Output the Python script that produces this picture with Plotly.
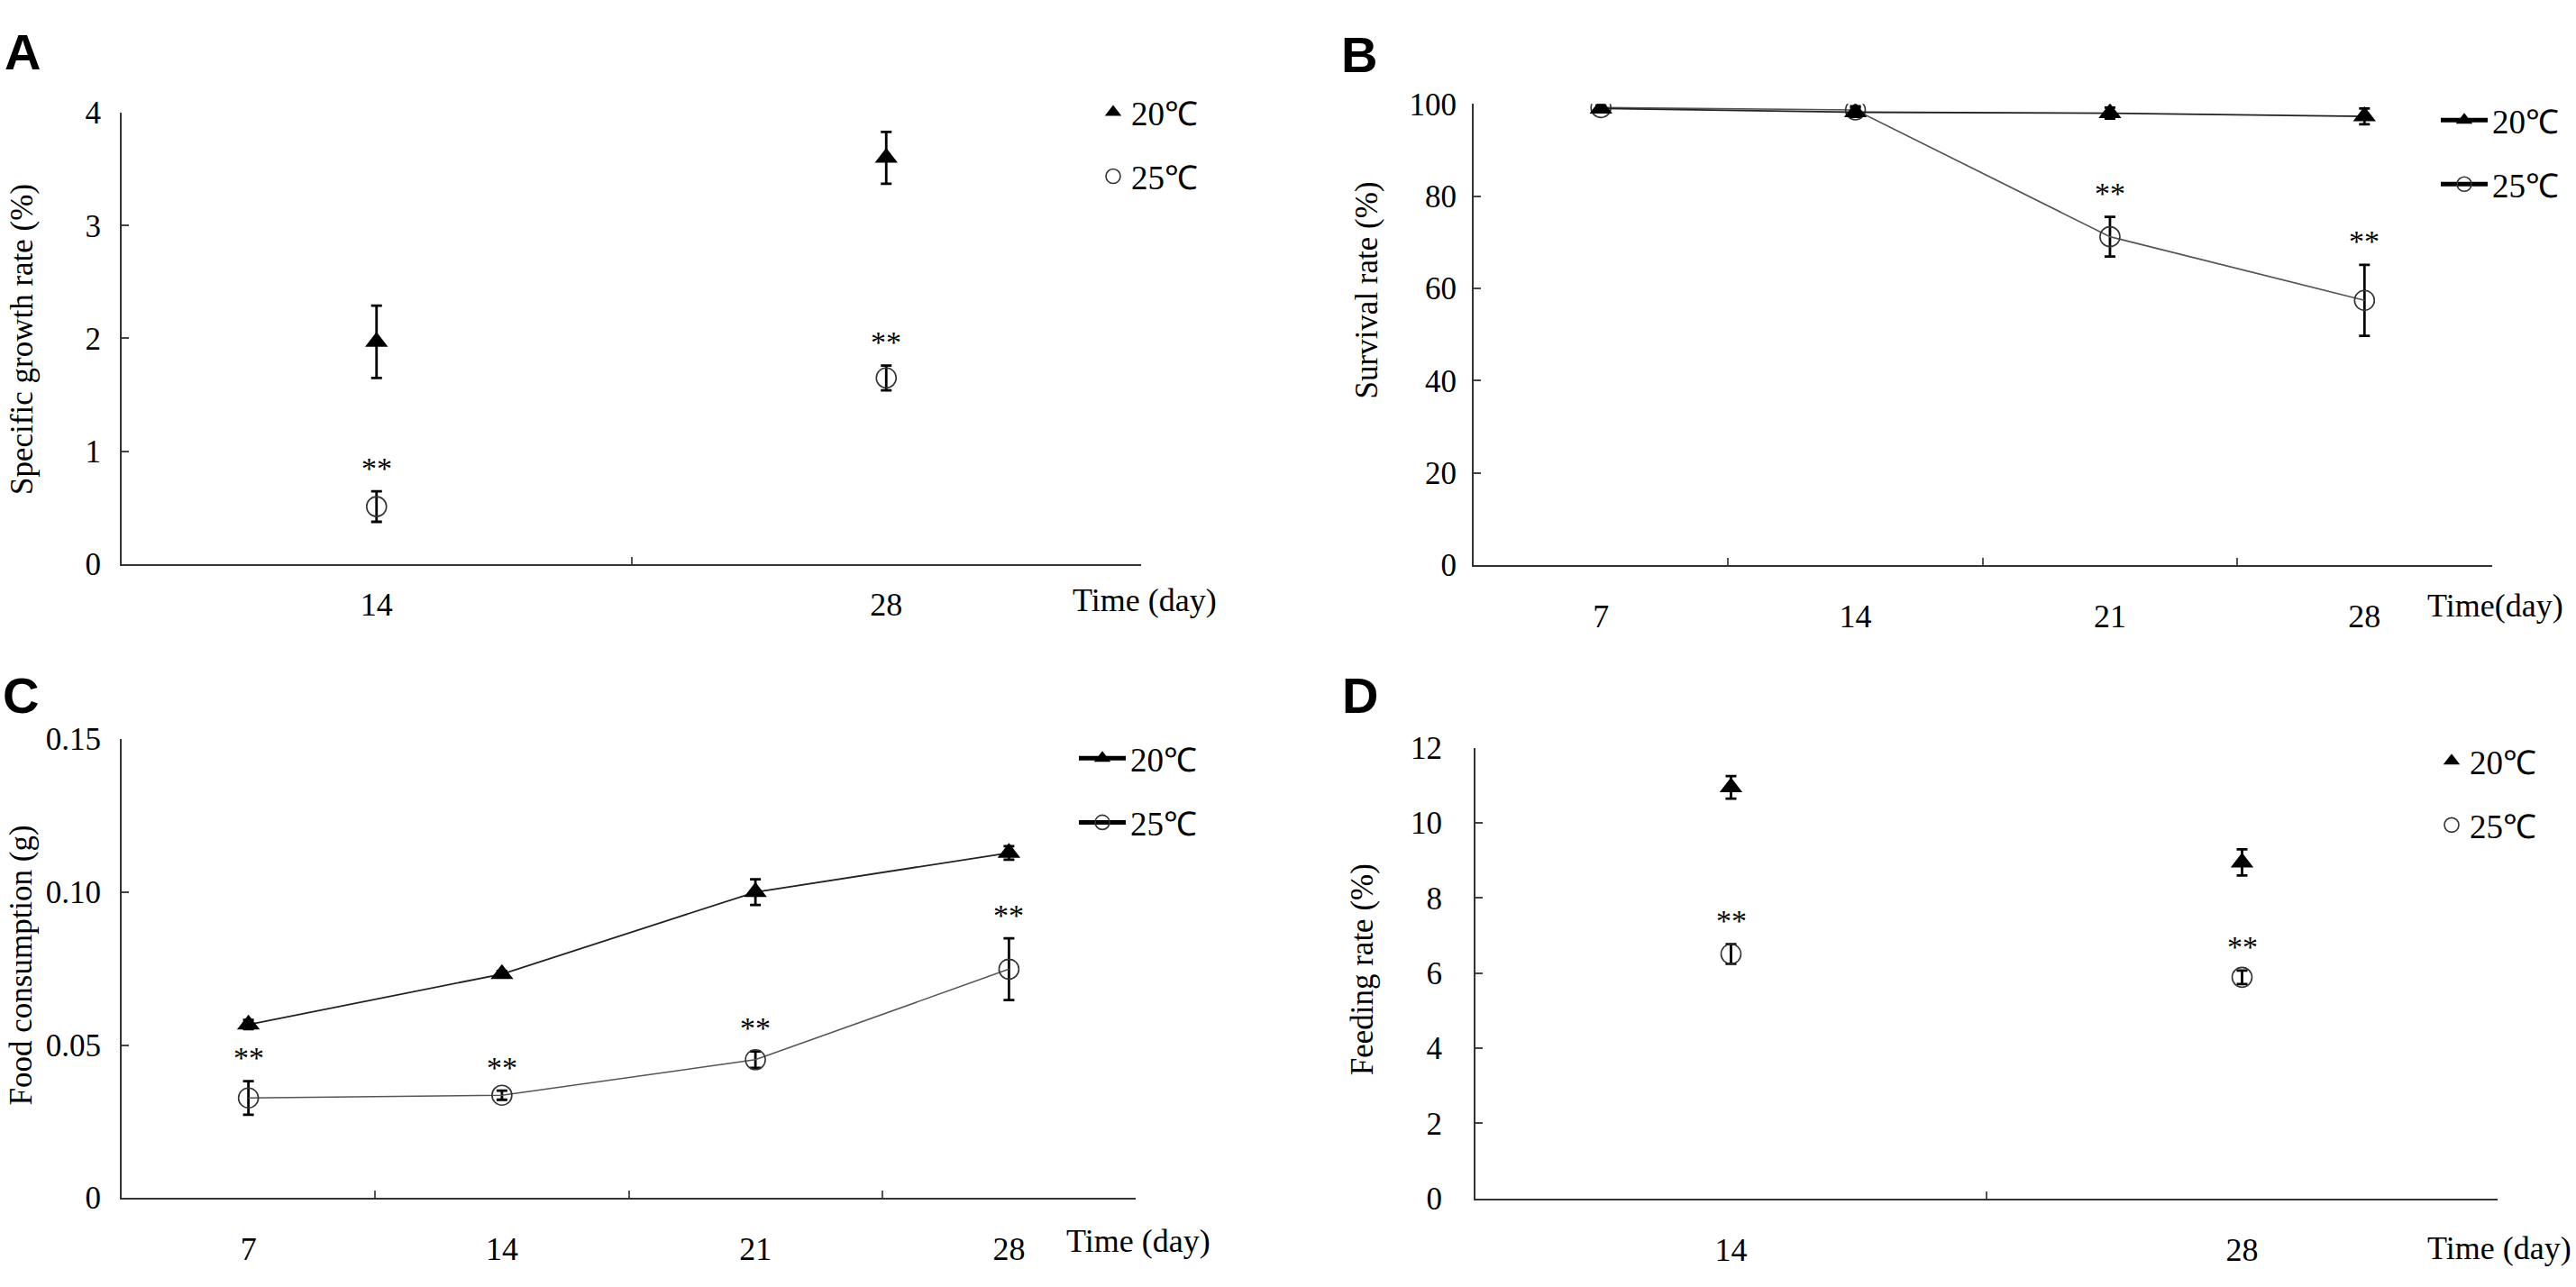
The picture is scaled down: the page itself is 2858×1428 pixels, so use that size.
import plotly.graph_objects as go

W, H = 2858, 1428

# Panel A - specific growth rate (%)
days_a = ["14", "28"]
sgr_20 = [1.97, 3.60]
sgr_20_err = [0.32, 0.23]
sgr_25 = [0.51, 1.65]
sgr_25_err = [0.135, 0.11]
sgr_sig = [True, True]

# Panel B - survival rate (%)
days_b = ["7", "14", "21", "28"]
surv_20 = [99.0, 98.2, 98.0, 97.3]
surv_20_err = [0.5, 1.0, 1.2, 1.7]
surv_25 = [99.2, 98.7, 71.2, 57.4]
surv_25_err = [0.5, 0.8, 4.3, 7.7]
surv_sig = [False, False, True, True]

# Panel C - food consumption (g)
days_c = ["7", "14", "21", "28"]
food_20 = [0.0567, 0.0732, 0.1000, 0.1128]
food_20_err = [0.0015, 0.0010, 0.0042, 0.0022]
food_25 = [0.0327, 0.0336, 0.0452, 0.0748]
food_25_err = [0.0055, 0.0015, 0.0027, 0.0101]
food_sig = [True, True, True, True]

# Panel D - feeding rate (%)
days_d = ["14", "28"]
feed_20 = [10.95, 8.95]
feed_20_err = [0.30, 0.35]
feed_25 = [6.51, 5.89]
feed_25_err = [0.26, 0.18]
feed_sig = [True, True]

SERIF = "Liberation Serif, Times New Roman, serif"
SANS = "Liberation Sans, Arial, sans-serif"


def px_x(p):
    return p / W


def px_y(p):
    return 1 - p / H


panels = [
    dict(x=days_a, y20=sgr_20, e20=sgr_20_err, y25=sgr_25, e25=sgr_25_err, sig=sgr_sig,
         lines=False, ax="", leg="legend"),
    dict(x=days_b, y20=surv_20, e20=surv_20_err, y25=surv_25, e25=surv_25_err, sig=surv_sig,
         lines=True, ax="2", leg="legend2"),
    dict(x=days_c, y20=food_20, e20=food_20_err, y25=food_25, e25=food_25_err, sig=food_sig,
         lines=True, ax="3", leg="legend3"),
    dict(x=days_d, y20=feed_20, e20=feed_20_err, y25=feed_25, e25=feed_25_err, sig=feed_sig,
         lines=False, ax="4", leg="legend4"),
]

tri = dict(symbol="triangle-up", size=22, color="black")
circ = dict(symbol="circle-open", size=22, color="#333333", line=dict(width=1.6))

fig = go.Figure()
annotations = []

for p in panels:
    xa, ya = "x" + p["ax"], "y" + p["ax"]
    mode = "lines+markers" if p["lines"] else "markers"
    err = dict(type="data", color="black", thickness=2.8, width=6)
    fig.add_trace(go.Scatter(
        x=p["x"], y=p["y25"], mode=mode, name="25℃",
        error_y=dict(err, array=p["e25"]),
        marker=circ, line=dict(color="#555555", width=1.6),
        xaxis=xa, yaxis=ya, showlegend=False))
    fig.add_trace(go.Scatter(
        x=p["x"], y=p["y20"], mode=mode, name="20℃",
        error_y=dict(err, array=p["e20"]),
        marker=tri, line=dict(color="#222222", width=1.8),
        xaxis=xa, yaxis=ya, showlegend=False))
    # legend entries
    lw = 5 if p["lines"] else 0
    fig.add_trace(go.Scatter(
        x=[None], y=[None], mode=mode, name="20℃", legend=p["leg"],
        legendgroup=p["leg"] + "a", marker=tri, line=dict(color="black", width=lw),
        xaxis=xa, yaxis=ya))
    fig.add_trace(go.Scatter(
        x=[None], y=[None], mode=mode, name="25℃", legend=p["leg"],
        legendgroup=p["leg"] + "b", marker=circ, line=dict(color="black", width=lw),
        xaxis=xa, yaxis=ya))
    # significance marks above the 25 C error bars (category index positions)
    for i, (yi, ei, s) in enumerate(zip(p["y25"], p["e25"], p["sig"])):
        if s:
            annotations.append(dict(
                x=i, y=yi + ei, xref=xa, yref=ya, text="**", showarrow=False,
                yanchor="middle", yshift=26, font=dict(family=SERIF, size=34, color="black")))

# axes placement (pixel boxes of the original figure)
boxes = {
    "": dict(x0=135, x1=1266, ytop=109, ybot=624, rng=[0, 4], dtick=1, n=2, xst=12, yst=14),
    "2": dict(x0=1635, x1=2764.5, ytop=99, ybot=625, rng=[0, 100], dtick=20, n=4, xst=24, yst=10),
    "3": dict(x0=135, x1=1260, ytop=823.6, ybot=1347, rng=[0, 0.15], dtick=0.05, n=4, xst=24, yst=14),
    "4": dict(x0=1637, x1=2771, ytop=833.6, ybot=1347.5, rng=[0, 12], dtick=2, n=2, xst=24, yst=28),
}
cats = {"": days_a, "2": days_b, "3": days_c, "4": days_d}

layout_axes = {}
for k, b in boxes.items():
    layout_axes["xaxis" + k] = dict(
        type="category", categoryorder="array", categoryarray=cats[k],
        domain=[px_x(b["x0"]), px_x(b["x1"])], anchor="y" + k,
        range=[-0.5, b["n"] - 0.5],
        showline=True, linecolor="#333333", linewidth=2,
        ticks="inside", tickson="boundaries", ticklen=8, tickwidth=2, tickcolor="#555555",
        showgrid=False, zeroline=False, ticklabelstandoff=b["xst"],
        tickfont=dict(family=SERIF, size=36, color="black"), fixedrange=True)
    yax = dict(
        domain=[px_y(b["ybot"]), px_y(b["ytop"])], anchor="x" + k,
        range=b["rng"], dtick=b["dtick"], tick0=0,
        showline=True, linecolor="#333333", linewidth=2,
        ticks="inside", ticklen=8, tickwidth=2, tickcolor="#444444",
        showgrid=False, zeroline=False, ticklabelstandoff=b["yst"],
        tickfont=dict(family=SERIF, size=35, color="black"), fixedrange=True)
    if k == "3":
        yax.update(tickvals=[0, 0.05, 0.10, 0.15], ticktext=["0", "0.05", "0.10", "0.15"])
    layout_axes["yaxis" + k] = yax

# panel letters, y titles and x titles
letters = [("A", 25, 40), ("B", 1508, 43), ("C", 23, 774), ("D", 1509, 774)]
for t, x, y in letters:
    annotations.append(dict(text="<b>%s</b>" % t, x=px_x(x), y=px_y(y), xref="paper", yref="paper",
                            showarrow=False, xanchor="center", yanchor="middle",
                            font=dict(family=SANS, size=56, color="black")))

ytitles = [("Specific growth rate (%)", 25, 368), ("Survival rate (%)", 1516, 312),
           ("Food consumption (g)", 23, 1082), ("Feeding rate (%)", 1511, 1087)]
for t, x, y in ytitles:
    annotations.append(dict(text=t, x=px_x(x), y=px_y(y), xref="paper", yref="paper",
                            showarrow=False, textangle=-90, xanchor="center", yanchor="middle",
                            font=dict(family=SERIF, size=35, color="black")))

xtitles = [("Time (day)", 1188, 665), ("Time(day)", 2691, 671),
           ("Time (day)", 1181, 1396), ("Time (day)", 2691, 1404)]
for t, x, y in xtitles:
    annotations.append(dict(text=t, x=px_x(x), y=px_y(y), xref="paper", yref="paper",
                            showarrow=False, xanchor="left", yanchor="middle",
                            font=dict(family=SERIF, size=36, color="black")))

leg_common = dict(xanchor="left", yanchor="top", bgcolor="rgba(0,0,0,0)", borderwidth=0,
                  tracegroupgap=20, font=dict(family=SERIF, size=37, color="black"))
legends = dict(
    legend=dict(leg_common, x=px_x(1215), y=px_y(77), itemwidth=30),
    legend2=dict(leg_common, x=px_x(2703), y=px_y(86), itemwidth=52),
    legend3=dict(leg_common, x=px_x(1192), y=px_y(814), itemwidth=52),
    legend4=dict(leg_common, x=px_x(2700), y=px_y(817), itemwidth=30),
)

fig.update_layout(
    width=W, height=H,
    margin=dict(l=0, r=0, t=0, b=0),
    paper_bgcolor="white", plot_bgcolor="white",
    annotations=annotations,
    font=dict(family=SERIF, color="black"),
    **layout_axes, **legends)

fig.write_html("out.html", config={"displayModeBar": False},
               post_script="document.body.style.margin='0';")
